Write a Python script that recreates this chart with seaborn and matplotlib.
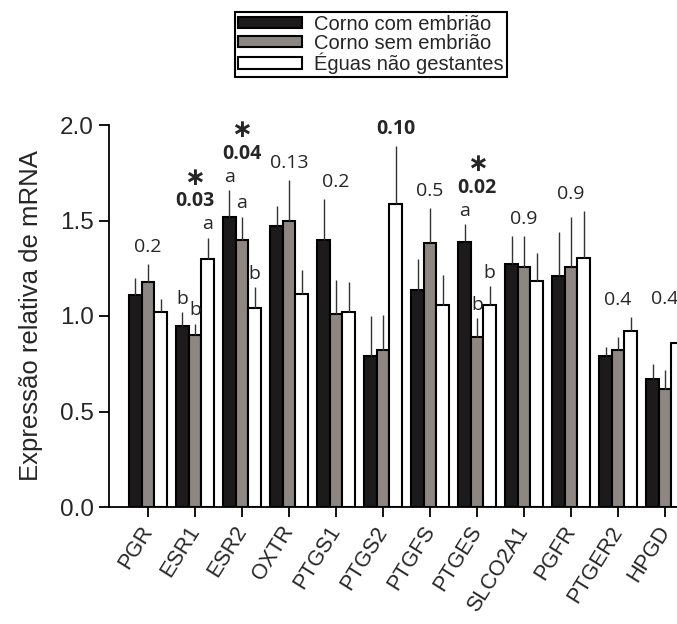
import matplotlib
matplotlib.use('Agg')
import matplotlib.pyplot as plt
import seaborn as sns
import pandas as pd

genes = ['PGR', 'ESR1', 'ESR2', 'OXTR', 'PTGS1', 'PTGS2', 'PTGFS', 'PTGES',
         'SLCO2A1', 'PGFR', 'PTGER2', 'HPGD']
groups = ['Corno com embrião', 'Corno sem embrião', 'Éguas não gestantes']

# mean relative expression
com_embriao = [1.11, 0.95, 1.52, 1.47, 1.40, 0.79, 1.135, 1.385, 1.27, 1.21, 0.79, 0.67]
sem_embriao = [1.18, 0.90, 1.40, 1.50, 1.01, 0.82, 1.38, 0.89, 1.255, 1.255, 0.82, 0.62]
nao_gestantes = [1.02, 1.30, 1.04, 1.115, 1.02, 1.585, 1.06, 1.06, 1.185, 1.305, 0.92, 0.86]

# upper error (SEM)
err_com = [0.09, 0.07, 0.14, 0.105, 0.21, 0.21, 0.165, 0.095, 0.15, 0.23, 0.05, 0.08]
err_sem = [0.09, 0.06, 0.12, 0.21, 0.18, 0.185, 0.185, 0.10, 0.165, 0.265, 0.07, 0.095]
err_nao = [0.07, 0.11, 0.11, 0.125, 0.16, 0.305, 0.155, 0.095, 0.145, 0.245, 0.075, 0.14]

p_values = ['0.2', '0.03', '0.04', '0.13', '0.2', '0.10', '0.5', '0.02', '0.9', '0.9', '0.4', '0.4']
significant = [False, True, True, False, False, False, False, True, False, False, False, False]
bold_p = [False, True, True, False, False, True, False, True, False, False, False, False]
letters = {'ESR1': ['b', 'b', 'a'], 'ESR2': ['a', 'a', 'b'], 'PTGES': ['a', 'b', 'b']}

colors = ['#1c1a1a', '#8e8680', '#ffffff']

df = pd.DataFrame({
    'gene': genes * 3,
    'grupo': [g for g in groups for _ in genes],
    'valor': com_embriao + sem_embriao + nao_gestantes,
})
errs = [err_com, err_sem, err_nao]

sns.set_style('ticks')
plt.rcParams['font.family'] = ['Liberation Sans', 'DejaVu Sans']

fig = plt.figure(figsize=(6.77, 6.24), dpi=100)
ax = fig.add_axes([109 / 677, 117 / 624, 589 / 677, 382 / 624])

sns.barplot(data=df, x='gene', y='valor', hue='grupo', palette=colors,
            edgecolor='black', linewidth=1.5, width=0.8, errorbar=None,
            saturation=1, ax=ax)

# upper error bars
tops = [[0.0] * 3 for _ in genes]
centers = [[0.0] * 3 for _ in genes]
for k, cont in enumerate(ax.containers):
    for i, bar in enumerate(cont):
        xc = bar.get_x() + bar.get_width() / 2
        h = bar.get_height()
        ax.vlines(xc, h, h + errs[k][i], color='#333333', lw=1.0, zorder=1)
        tops[i][k] = h + errs[k][i]
        centers[i][k] = xc

ann_font = dict(family='Open Sans', fontsize=14, ha='center', va='center', clip_on=False)
for i, g in enumerate(genes):
    top = max(tops[i])
    if g in letters:
        ys = []
        for k, l in enumerate(letters[g]):
            y = tops[i][k] + 0.07
            ax.text(centers[i][k], y, l, **ann_font)
            ys.append(y)
        py = max(ys) + 0.12
    else:
        py = top + 0.09
    srt = sorted(tops[i])
    k_max = tops[i].index(top)
    px = centers[i][k_max] if srt[-1] - srt[-2] > 0.5 else centers[i][1]
    ax.text(px, py, p_values[i], fontweight='bold' if bold_p[i] else 'normal', **ann_font)
    if significant[i]:
        ax.text(px, py + 0.125, '\u2217', family='DejaVu Sans', fontsize=18, fontweight='bold',
                ha='center', va='center', clip_on=False)

ax.set_xlim(-0.83, 11.7)
ax.set_ylim(0, 2.0)
ax.set_yticks([0, 0.5, 1.0, 1.5, 2.0])
ax.set_yticklabels(['0.0', '0.5', '1.0', '1.5', '2.0'], fontsize=17.5)
ax.set_xticks(range(len(genes)))
ax.set_xticklabels(genes, rotation=58, ha='right', va='center', rotation_mode='anchor',
                   fontsize=15.5)
ax.tick_params(axis='both', direction='out', length=7, width=1.3, color='black', pad=4)
ax.tick_params(axis='x', pad=8)
ax.set_xlabel('')
ax.set_ylabel('Expressão relativa de mRNA', fontsize=18.5, labelpad=12)
for s in ['top', 'right']:
    ax.spines[s].set_visible(False)
for s in ['left', 'bottom']:
    ax.spines[s].set_linewidth(1.3)
    ax.spines[s].set_color('black')

handles, labels = ax.get_legend_handles_labels()
ax.get_legend().remove()
leg = fig.legend(handles, labels, loc='upper center', bbox_to_anchor=(0.548, 0.988),
                 fontsize=14.5, handlelength=3.2, handleheight=0.5, labelspacing=0.0,
                 handletextpad=0.6, borderpad=0.15, borderaxespad=0.2, fancybox=False,
                 framealpha=1, edgecolor='black')
leg.get_frame().set_linewidth(1.5)

fig.savefig('out.png', dpi=100)
